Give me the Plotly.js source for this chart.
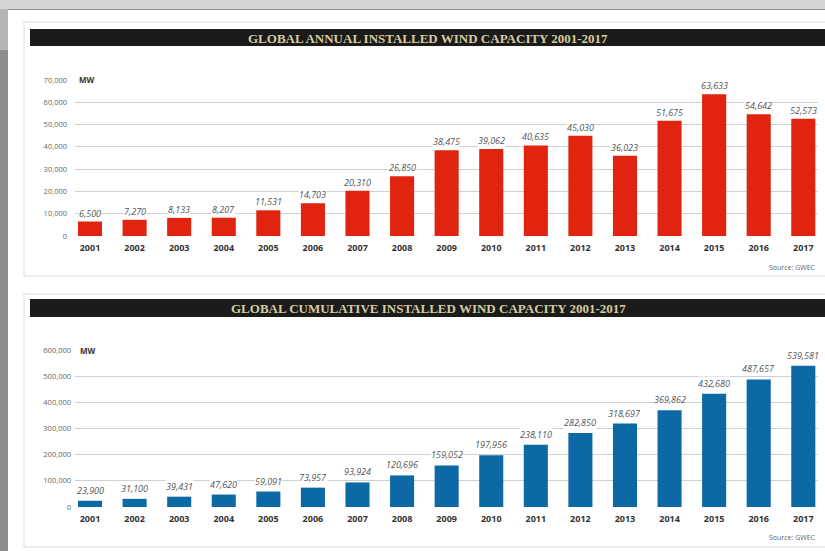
<!DOCTYPE html>
<html>
<head>
<meta charset="utf-8">
<script src="https://cdn.plot.ly/plotly-3.0.1.min.js"></script>
<style>
html,body{margin:0;padding:0;background:#8d8d8d;}
#chart{width:825px;height:551px;}
</style>
</head>
<body>
<div id="chart"></div>
<script>
// ---- data ----
const years = ["2001","2002","2003","2004","2005","2006","2007","2008","2009","2010","2011","2012","2013","2014","2015","2016","2017"];
const annualMW = [6500,7270,8133,8207,11531,14703,20310,26850,38475,39062,40635,45030,36023,51675,63633,54642,52573];
const cumulativeMW = [23900,31100,39431,47620,59091,73957,93924,120696,159052,197956,238110,282850,318697,369862,432680,487657,539581];
const annualTicks = [0,10000,20000,30000,40000,50000,60000,70000];
const cumulativeTicks = [0,100000,200000,300000,400000,500000,600000];
const title1 = "GLOBAL ANNUAL INSTALLED WIND CAPACITY 2001-2017";
const title2 = "GLOBAL CUMULATIVE INSTALLED WIND CAPACITY 2001-2017";
const sourceText = "Source: GWEC";
const unitText = "MW";

// ---- helpers for pixel -> paper ----
const W = 825, H = 551;
const px = x => x / W;
const py = y => 1 - y / H;

const fmt = v => v.toLocaleString('en-US');

const red = "#e0240f";
const blue = "#0d69a6";

const traces = [
  {type:"bar", x:years, y:annualMW, xaxis:"x", yaxis:"y", marker:{color:red}, hoverinfo:"x+y"},
  {type:"bar", x:years, y:cumulativeMW, xaxis:"x2", yaxis:"y2", marker:{color:blue}, hoverinfo:"x+y"}
];

function valueAnnots(vals, xa, ya, shift){
  return vals.map((v,i)=>({
    x: i, y: v, xref: xa, yref: ya,
    text: "<i>"+fmt(v)+"</i>", showarrow:false, yanchor:"bottom", yshift:shift,
    font: {family:"Open Sans, sans-serif", size:9, color:"#555"}, bgcolor:"rgba(255,255,255,0.9)", borderpad:0
  }));
}

const axisX = (dom) => ({
  type:"category", domain:dom, range:[-0.337,16.33], showgrid:false, zeroline:false, showline:false,
  ticks:"", tickfont:{family:"Open Sans, sans-serif", size:9, color:"#333", weight:"bold"}, ticklabelstandoff:5, fixedrange:true
});
const axisY = (dom, rng, tv, standoff) => ({
  domain:dom, range:rng, tickvals:tv, ticktext:tv.map(fmt), showgrid:true, gridcolor:"#d0d0d0", gridwidth:1,
  zeroline:false, showline:false, ticks:"", tickfont:{family:"Open Sans, sans-serif", size:7.5, color:"#666"},
  ticklabelstandoff:standoff, fixedrange:true
});

const layout = {
  width: W, height: H,
  margin:{l:0,r:0,t:0,b:0},
  paper_bgcolor:"#8d8d8d", plot_bgcolor:"rgba(0,0,0,0)",
  showlegend:false,
  bargap:0.46,
  xaxis: axisX([px(75), px(818)]),
  yaxis: axisY([py(236), py(80)], [0,70000], annualTicks, 7),
  xaxis2: Object.assign(axisX([px(75), px(818)]), {anchor:"y2"}),
  yaxis2: Object.assign(axisY([py(507), py(350)], [0,600000], cumulativeTicks, 3), {anchor:"x2"}),
  shapes:[
    // page (white) with top light strip and gray left strip from paper background
    {type:"rect", xref:"paper", yref:"paper", x0:0, x1:1, y0:py(9), y1:1, fillcolor:"#d4d4d4", line:{width:0}, layer:"below"},
    {type:"rect", xref:"paper", yref:"paper", x0:0, x1:px(8), y0:py(50), y1:py(9), fillcolor:"#b5b5b5", line:{width:0}, layer:"below"},
    {type:"rect", xref:"paper", yref:"paper", x0:px(8), x1:1, y0:0, y1:py(10), fillcolor:"#ffffff", line:{width:0}, layer:"below"},
    // panel frames
    {type:"rect", xref:"paper", yref:"paper", x0:px(24), x1:px(830), y0:py(276), y1:py(22), fillcolor:"rgba(0,0,0,0)", line:{color:"#d9d9d9", width:1}, layer:"below"},
    {type:"rect", xref:"paper", yref:"paper", x0:px(24), x1:px(830), y0:py(547), y1:py(294), fillcolor:"rgba(0,0,0,0)", line:{color:"#d9d9d9", width:1}, layer:"below"},
    // title bars
    {type:"rect", xref:"paper", yref:"paper", x0:px(30), x1:px(826), y0:py(46), y1:py(29), fillcolor:"#1b1b1b", line:{width:0}, layer:"below"},
    {type:"rect", xref:"paper", yref:"paper", x0:px(30), x1:px(826), y0:py(317), y1:py(299), fillcolor:"#1b1b1b", line:{width:0}, layer:"below"}
  ],
  annotations: [
    {xref:"paper", yref:"paper", x:px(428), y:py(38), text:"<b>"+title1+"</b>", showarrow:false, xanchor:"center", yanchor:"middle",
     font:{family:"Liberation Serif, serif", size:13, color:"#d6cb9e"}},
    {xref:"paper", yref:"paper", x:px(428), y:py(308), text:"<b>"+title2+"</b>", showarrow:false, xanchor:"center", yanchor:"middle",
     font:{family:"Liberation Serif, serif", size:13, color:"#d6cb9e"}},
    {xref:"paper", yref:"paper", x:px(76), y:py(80), text:"<b>"+unitText+"</b>", showarrow:false, xanchor:"left", yanchor:"middle",
     font:{family:"Open Sans, sans-serif", size:8, color:"#333"}, bgcolor:"#ffffff", borderpad:2},
    {xref:"paper", yref:"paper", x:px(77), y:py(350), text:"<b>"+unitText+"</b>", showarrow:false, xanchor:"left", yanchor:"middle",
     font:{family:"Open Sans, sans-serif", size:8, color:"#333"}, bgcolor:"#ffffff", borderpad:2},
    {xref:"paper", yref:"paper", x:px(818), y:py(267), text:sourceText, showarrow:false, xanchor:"right", yanchor:"middle",
     font:{family:"Open Sans, sans-serif", size:7, color:"#666"}},
    {xref:"paper", yref:"paper", x:px(818), y:py(537), text:sourceText, showarrow:false, xanchor:"right", yanchor:"middle",
     font:{family:"Open Sans, sans-serif", size:7, color:"#666"}}
  ].concat(valueAnnots(annualMW, "x", "y", 1), valueAnnots(cumulativeMW, "x2", "y2", 3))
};

Plotly.newPlot("chart", traces, layout, {displayModeBar:false, staticPlot:true});
</script>
</body>
</html>
